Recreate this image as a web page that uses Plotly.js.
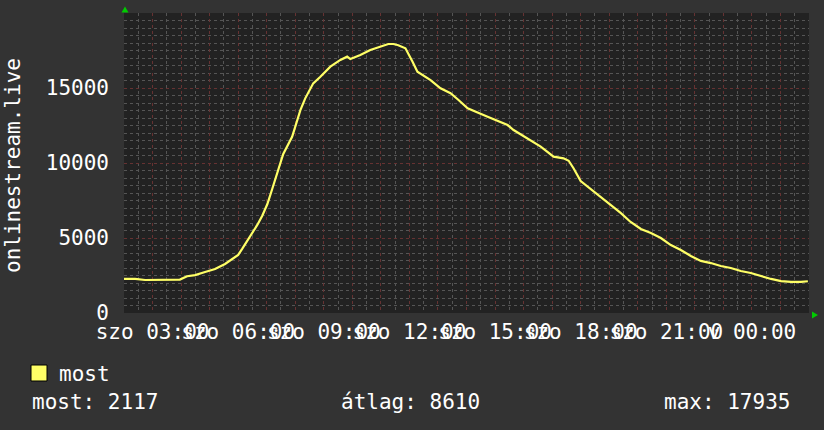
<!DOCTYPE html>
<html>
<head>
<meta charset="utf-8">
<script src="https://cdn.plot.ly/plotly-3.0.1.min.js"></script>
<style>
html,body{margin:0;padding:0;background:#333333;}
#chart{width:824px;height:430px;}
</style>
</head>
<body>
<div id="chart"></div>
<script>
// Time in hours since Saturday 00:00 (2 = szo 02:00, 26 = v 02:00)
const hours = [2.00,2.39,2.74,3.26,3.96,4.21,4.49,4.84,5.19,5.54,5.82,6.00,6.14,6.32,6.49,6.67,6.84,7.02,7.19,7.37,7.58,7.89,8.00,8.18,8.35,8.63,8.88,9.23,9.58,9.82,9.93,10.28,10.63,10.91,11.09,11.26,11.44,11.61,11.86,12.00,12.11,12.28,12.74,13.09,13.44,13.72,14.04,14.74,15.44,15.65,16.14,16.60,17.05,17.40,17.58,17.75,18.00,18.35,18.70,19.05,19.40,19.75,20.11,20.46,20.81,21.16,21.51,21.86,22.21,22.56,22.91,23.26,23.61,23.96,24.32,24.67,25.02,25.37,25.72,25.96];
const most = [2270,2270,2200,2200,2230,2450,2530,2730,2930,3270,3600,3870,4270,4800,5330,5870,6470,7250,8250,9350,10600,11750,12420,13530,14310,15310,15750,16420,16870,17090,16930,17200,17530,17710,17850,17935,17935,17850,17650,17200,16750,16090,15530,14980,14650,14200,13650,13090,12530,12200,11650,11090,10420,10310,10150,9650,8800,8270,7730,7200,6670,6070,5600,5330,5000,4530,4200,3800,3470,3330,3130,3000,2800,2670,2470,2270,2130,2070,2070,2117];

const xTickVals = [2,3,4,5,6,7,8,9,10,11,12,13,14,15,16,17,18,19,20,21,22,23,24,25,26];
const xTickText = ["","szo 03:00","","","szo 06:00","","","szo 09:00","","","szo 12:00","","","szo 15:00","","","szo 18:00","","","szo 21:00","","","v 00:00","",""];
const yTickVals = [0,5000,10000,15000,20000];
const yTickText = ["0","5000","10000","15000",""];

const seriesName = "most";
const yTitle = "onlinestream.live";
const statLabels = ["most: 2117","átlag: 8610","max: 17935"];

const FONT = "DejaVu Sans Mono";
const W = 824, H = 430;
const L = 124, R = 15, T = 13, B = 117;
const pw = W - L - R, ph = H - T - B;
const px = v => (v - L) / pw;
const py = v => (H - B - v) / ph;

const trace = {
  x: hours, y: most, type: 'scatter', mode: 'lines',
  line: {color: '#ffff66', width: 2.2},
  name: seriesName, hoverinfo: 'skip'
};

const layout = {
  width: W, height: H,
  margin: {l: L, r: R, t: T, b: B, pad: 0},
  paper_bgcolor: '#333333',
  plot_bgcolor: '#222222',
  showlegend: false,
  font: {family: FONT, size: 21, color: '#ffffff'},
  xaxis: {
    range: [2, 26], tickmode: 'array', tickvals: xTickVals, ticktext: xTickText,
    tickangle: 0, ticks: '', showgrid: true, gridcolor: '#663232', griddash: 'dot', gridwidth: 1,
    zeroline: false, showline: false, ticklabelstandoff: 4,
    tickfont: {family: FONT, size: 21, color: '#ffffff'},
    minor: {tickmode: 'linear', tick0: 2, dtick: 0.5, showgrid: true, gridcolor: '#555555', griddash: 'dot', gridwidth: 1, ticks: ''},
    fixedrange: true
  },
  yaxis: {
    range: [0, 20000], tickmode: 'array', tickvals: yTickVals, ticktext: yTickText,
    ticks: '', showgrid: true, gridcolor: '#663232', griddash: 'dot', gridwidth: 1,
    zeroline: false, showline: false, ticklabelstandoff: 14,
    tickfont: {family: FONT, size: 21, color: '#ffffff'},
    minor: {tickmode: 'linear', tick0: 0, dtick: 500, showgrid: true, gridcolor: '#555555', griddash: 'dot', gridwidth: 1, ticks: ''},
    fixedrange: true
  },
  shapes: [
    {type: 'rect', xref: 'paper', yref: 'paper', x0: px(31), x1: px(47), y0: py(381), y1: py(365),
     fillcolor: '#ffff66', line: {color: '#000000', width: 1}},
    {type: 'path', xref: 'paper', yref: 'paper',
     path: `M ${px(121.5)} ${py(12.5)} L ${px(128.5)} ${py(12.5)} L ${px(125)} ${py(6.5)} Z`,
     fillcolor: '#00cc00', line: {width: 0}},
    {type: 'path', xref: 'paper', yref: 'paper',
     path: `M ${px(812)} ${py(311.5)} L ${px(812)} ${py(318.5)} L ${px(818)} ${py(315)} Z`,
     fillcolor: '#00cc00', line: {width: 0}}
  ],
  annotations: [
    {text: yTitle, xref: 'paper', yref: 'paper', x: px(13), y: py(165), textangle: -90,
     showarrow: false, xanchor: 'center', yanchor: 'middle', font: {family: FONT, size: 21, color: '#ffffff'}},
    {text: seriesName, xref: 'paper', yref: 'paper', x: px(57), y: py(374), showarrow: false,
     xanchor: 'left', yanchor: 'middle', font: {family: FONT, size: 21, color: '#ffffff'}},
    {text: statLabels[0], xref: 'paper', yref: 'paper', x: px(30), y: py(402), showarrow: false,
     xanchor: 'left', yanchor: 'middle', font: {family: FONT, size: 21, color: '#ffffff'}},
    {text: statLabels[1], xref: 'paper', yref: 'paper', x: px(339), y: py(402), showarrow: false,
     xanchor: 'left', yanchor: 'middle', font: {family: FONT, size: 21, color: '#ffffff'}},
    {text: statLabels[2], xref: 'paper', yref: 'paper', x: px(792), y: py(402), showarrow: false,
     xanchor: 'right', yanchor: 'middle', font: {family: FONT, size: 21, color: '#ffffff'}}
  ]
};

Plotly.newPlot('chart', [trace], layout, {displayModeBar: false, staticPlot: true});
</script>
</body>
</html>
